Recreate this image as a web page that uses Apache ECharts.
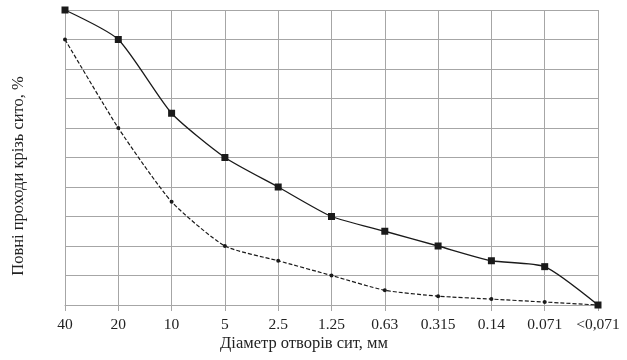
<!DOCTYPE html>
<html>
<head>
<meta charset="utf-8">
<script src="https://cdn.jsdelivr.net/npm/echarts@6/dist/echarts.min.js"></script>
<style>
  html, body { margin: 0; padding: 0; background: #fff; }
  #chart { width: 627px; height: 360px; }
</style>
</head>
<body>
<div id="chart"></div>
<script>
const categories = ['40', '20', '10', '5', '2.5', '1.25', '0.63', '0.315', '0.14', '0.071', '<0,071']
const upperValues = [100, 90, 65, 50, 40, 30, 25, 20, 15, 13, 0]
const lowerValues = [90, 60, 35, 20, 15, 10, 5, 3, 2, 1, 0]

const GRID = '#a6a6a6'
const TEXT = '#222'
const FONT = '"Liberation Serif", "DejaVu Serif", serif'

const chart = echarts.init(document.getElementById('chart'))

chart.setOption({
  animation: false,
  grid: { left: 65, right: 29, top: 10, bottom: 55 },
  // axis titles sit a bit off-centre in the original, so place them by hand
  graphic: [
    {
      type: 'text', x: 304, y: 344,
      style: {
        text: 'Діаметр отворів сит, мм', fill: TEXT,
        font: '16.5px ' + FONT, align: 'center', verticalAlign: 'middle'
      }
    },
    {
      type: 'text', x: 19, y: 176, rotation: Math.PI / 2,
      style: {
        text: 'Повні проходи крізь сито, %', fill: TEXT,
        font: '16.5px ' + FONT, align: 'center', verticalAlign: 'middle'
      }
    }
  ],
  xAxis: {
    type: 'category',
    data: categories,
    boundaryGap: false,
    axisLine: { lineStyle: { color: GRID } },
    axisTick: { show: true, interval: 0, length: 6, lineStyle: { color: GRID } },
    axisLabel: { interval: 0, hideOverlap: false, color: TEXT, fontSize: 15.5, fontFamily: FONT, margin: 12 },
    splitLine: { show: true, interval: 0, lineStyle: { color: GRID, width: 1 } }
  },
  yAxis: {
    type: 'value',
    min: 0,
    max: 100,
    interval: 10,
    axisLine: { show: true, lineStyle: { color: GRID } },
    axisTick: { show: false },
    axisLabel: { show: false },
    splitLine: { show: true, lineStyle: { color: GRID, width: 1 } }
  },
  series: [
    {
      type: 'line',
      data: upperValues,
      smooth: 0.2,
      symbol: 'rect',
      symbolSize: 7,
      lineStyle: { color: '#1a1a1a', width: 1.3 },
      itemStyle: { color: '#1a1a1a' }
    },
    {
      type: 'line',
      data: lowerValues,
      smooth: 0.2,
      symbol: 'circle',
      symbolSize: 4,
      lineStyle: { color: '#1a1a1a', width: 1.2, type: [4, 2] },
      itemStyle: { color: '#1a1a1a' }
    }
  ]
})
</script>
</body>
</html>
